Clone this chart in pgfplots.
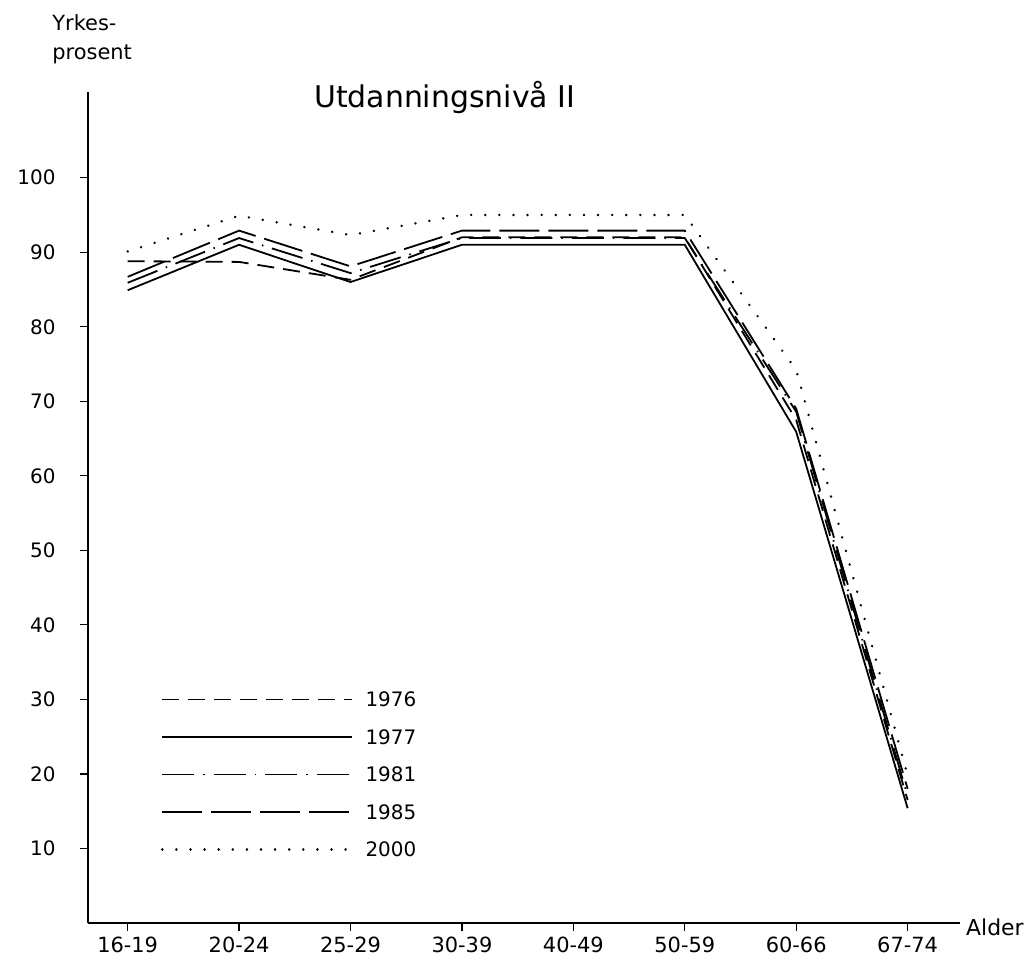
\documentclass[border=0pt]{standalone}
\usepackage{pgfplots}
\pgfplotsset{compat=1.18}
\usepackage{fontspec}
\setmainfont{DejaVu Sans}

\begin{document}
\begin{tikzpicture}
\useasboundingbox (-88bp,-46bp) rectangle (942bp,923bp);
\begin{axis}[
  at={(0,0)}, anchor=south west,
  scale only axis, width=872bp, height=831bp,
  xmin=-0.356, xmax=7.47, ymin=0, ymax=111.5,
  axis lines=left,
  axis line style={-, line width=1.6bp, black},
  xtick={0,1,2,3,4,5,6,7},
  xticklabels={16-19,20-24,25-29,30-39,40-49,50-59,60-66,67-74},
  ytick={10,20,30,40,50,60,70,80,90,100},
  /pgf/number format/assume math mode=true,
  tick align=outside, major tick length=8bp,
  tick style={line width=1.2bp, black},
  x tick label style={font=\fontsize{21}{21}\selectfont, yshift=-2bp},
  y tick label style={font=\fontsize{20}{20}\selectfont, xshift=-21bp},
  title={Utdanningsnivå II},
  title style={at={(axis description cs:0.409,0.986)}, anchor=center, font=\fontsize{30}{30}\selectfont},
  ylabel={Yrkes-\\prosent},
  ylabel style={rotate=-90, at={(axis description cs:-0.041,1.093)}, anchor=north west, align=left, inner sep=0pt, font=\fontsize{21}{29}\selectfont},
  xlabel={Alder},
  xlabel style={at={(axis description cs:1,0)}, anchor=west, xshift=6bp, yshift=-4bp, inner sep=0pt, font=\fontsize{22}{22}\selectfont},
  legend style={at={(axis description cs:0.080,0.280)}, anchor=north west, draw=none, fill=none,
    font=\fontsize{20}{20}\selectfont, row sep=23.5bp, column sep=12bp,
    nodes={inner sep=0pt, text height=14bp, text depth=0pt}},
  legend cell align=left,
  legend image code/.code={\draw[#1] (0bp,0bp) -- (190bp,0bp);},
  every axis plot/.append style={line width=1.8bp, black},
]
\addplot[dash pattern=on 17bp off 9bp] coordinates {(0,88.8) (1,88.7) (2,86.3) (3,92.0) (4,92.0) (5,92.0) (6,67.5) (7,16.5)};
\addlegendentry{1976}
\addplot[solid] coordinates {(0,84.9) (1,91.0) (2,86.0) (3,91.0) (4,91.0) (5,91.0) (6,65.9) (7,15.4)};
\addlegendentry{1977}
\addplot[dash pattern=on 32bp off 9bp on 1.5bp off 9bp] coordinates {(0,85.9) (1,91.9) (2,87.2) (3,91.9) (4,91.9) (5,91.9) (6,68.6) (7,17.0)};
\addlegendentry{1981}
\addplot[dash pattern=on 40bp off 9bp] coordinates {(0,86.7) (1,92.9) (2,88.1) (3,92.9) (4,92.9) (5,92.9) (6,69.0) (7,18.0)};
\addlegendentry{1985}
\addplot[line width=2.6bp, line cap=round, dash pattern=on 0.1bp off 14bp] coordinates {(0,90.1) (1,94.9) (2,92.3) (3,95.0) (4,95.0) (5,95.0) (6,74.2) (7,19.8)};
\addlegendentry{2000}
\end{axis}
\end{tikzpicture}
\end{document}
